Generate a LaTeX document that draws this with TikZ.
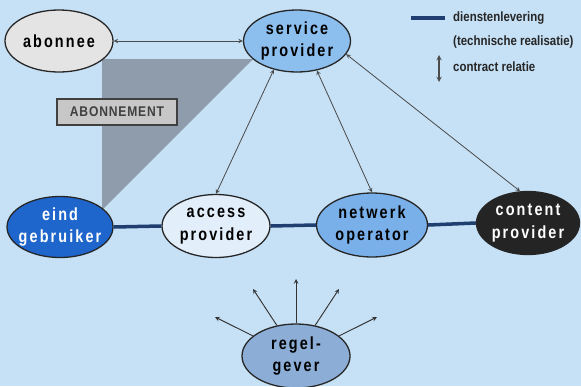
\documentclass[tikz,border=0pt]{standalone}
\usepackage{fontspec}
\setmainfont{Liberation Sans}
\newfontfamily\partyfont[LetterSpace=12,FakeStretch=0.82]{Liberation Sans}
\newfontfamily\boxfont[LetterSpace=6,FakeStretch=0.86]{Liberation Sans}
\newfontfamily\keyfont[FakeStretch=0.85]{Liberation Sans}
\usepackage{xcolor}
\usepackage{tikz}
\usetikzlibrary{shapes.geometric}
\definecolor{backblue}{RGB}{198,225,246}
\definecolor{wedgegray}{RGB}{142,156,172}
\definecolor{navyline}{RGB}{32,62,112}
\definecolor{subgray}{RGB}{228,228,228}
\definecolor{servblue}{RGB}{140,190,238}
\definecolor{endblue}{RGB}{30,102,204}
\definecolor{accblue}{RGB}{226,238,250}
\definecolor{netblue}{RGB}{122,176,234}
\definecolor{contdark}{RGB}{36,36,36}
\definecolor{regblue}{RGB}{140,174,214}

\begin{document}
\begin{tikzpicture}[x=0.03cm,y=-0.03cm,
  party/.style={ellipse,draw=black!85,line width=1.1pt,
    inner xsep=-4pt,inner ysep=0pt,align=center,
    font=\partyfont\bfseries\fontsize{15}{19}\selectfont},
  abobox/.style={draw=black!75,fill=black!22,line width=1pt,
    minimum width=3.6cm,minimum height=0.78cm,inner sep=0pt,
    font=\boxfont\bfseries\fontsize{12}{13}\selectfont,text=black!75},
  keytext/.style={anchor=west,inner sep=0pt,text=black!85,
    font=\keyfont\bfseries\fontsize{11.5}{12}\selectfont},
  delivery/.style={draw=navyline,line width=3pt},
  contract/.style={<->,draw=black!70,line width=0.7pt},
  >=stealth
]
\useasboundingbox[fill=backblue] (0,0) rectangle (581,386);
% the subscription wedge
\fill[wedgegray] (102,59) -- (253,59) -- (102,210) -- cycle;
% parties
\node[party,fill=subgray,minimum width=3.24cm,minimum height=1.86cm] (abonnee) at (59,41) {abonnee};
\node[party,fill=servblue,minimum width=3.21cm,minimum height=1.86cm] (service) at (297,41) {service\\provider};
\node[party,fill=endblue,text=white,minimum width=3.18cm,minimum height=1.83cm] (eind) at (60,227) {eind\\gebruiker};
\node[party,fill=accblue,minimum width=3.24cm,minimum height=1.89cm] (access) at (216,226) {access\\provider};
\node[party,fill=netblue,minimum width=3.33cm,minimum height=1.92cm] (netwerk) at (372,225) {netwerk\\operator};
\node[party,fill=contdark,text=white,minimum width=3.09cm,minimum height=1.89cm] (content) at (528,223) {content\\provider};
\node[party,fill=regblue,minimum width=3.24cm,minimum height=1.92cm] (regel) at (296,356) {regel-\\gever};
\node[abobox] (abo) at (117,112) {ABONNEMENT};
% service chain
\draw[delivery] (eind.east) -- (access.west);
\draw[delivery] (access.east) -- (netwerk.west);
\draw[delivery] (netwerk.east) -- (content.west);
% contracts
\draw[contract] (abonnee.east) -- (service.west);
\draw[contract] (service.-129) -- (access.north);
\draw[contract] (service.-56) -- (netwerk.north);
\draw[contract] (service.-15) -- (content.104);
% regulator
\coordinate (r1) at (215,317);
\coordinate (r2) at (253,289);
\coordinate (r3) at (296,279);
\coordinate (r4) at (339,289);
\coordinate (r5) at (377,317);
\foreach \ang/\tip in {155/r1,122/r2,90/r3,58/r4,25/r5}
  \draw[->,draw=black!80,line width=0.8pt] (regel.\ang) -- (\tip);
% legend
\coordinate (keyA) at (411,18);
\coordinate (keyB) at (445,18);
\coordinate (keyC) at (439,55);
\coordinate (keyD) at (439,82);
\draw[delivery] (keyA) -- (keyB);
\draw[contract,line width=1pt] (keyC) -- (keyD);
\node[keytext] (key1) at (453,18) {dienstenlevering};
\node[keytext] (key2) at (453,42) {(technische realisatie)};
\node[keytext] (key3) at (453,67) {contract relatie};
\end{tikzpicture}
\end{document}
